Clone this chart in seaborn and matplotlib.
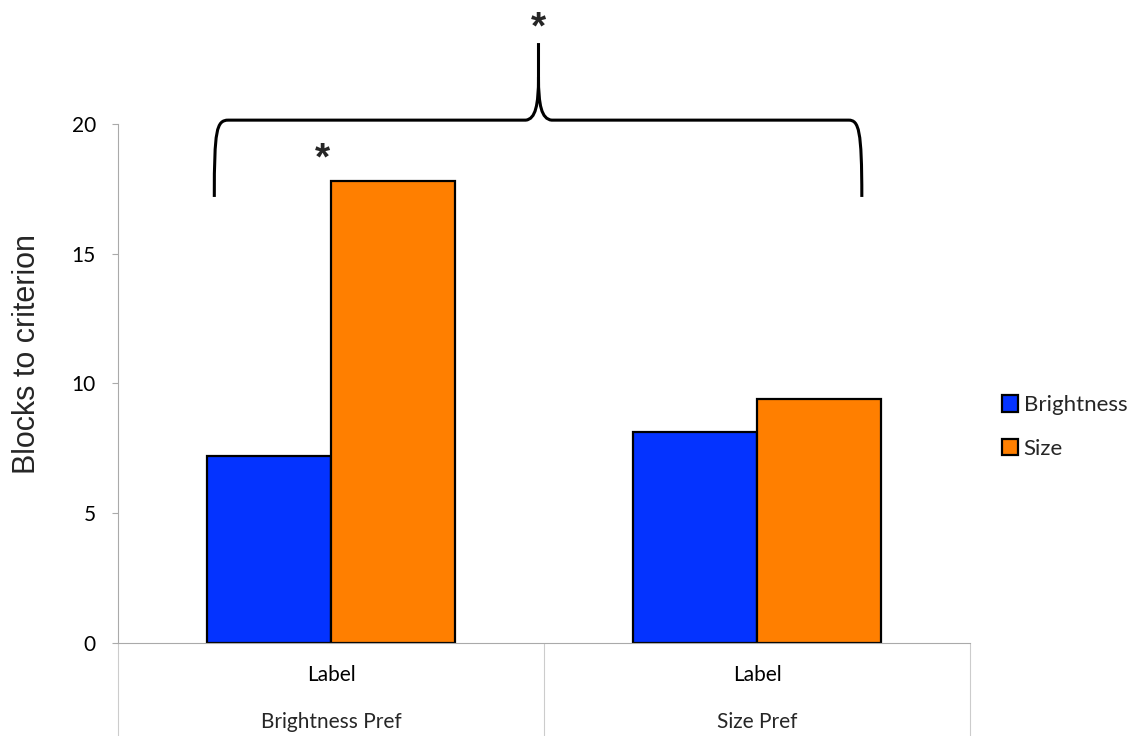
import matplotlib
matplotlib.use('Agg')
import matplotlib.pyplot as plt
from matplotlib.path import Path
from matplotlib.patches import PathPatch, Patch
import seaborn as sns
import pandas as pd

# data
groups = ['Brightness Pref', 'Size Pref']
tick_labels = ['Label', 'Label']
dims = ['Brightness', 'Size']
brightness_vals = [7.2, 8.13]
size_vals = [17.8, 9.42]
colors = ['#0433FF', '#FF7F00']

df = pd.DataFrame({
    'Group': groups * 2,
    'Dimension': [dims[0]] * 2 + [dims[1]] * 2,
    'Blocks': brightness_vals + size_vals,
})

sns.set_style('white')
plt.rcParams['font.family'] = ['Lato', 'DejaVu Sans']

fig = plt.figure(figsize=(11.36, 7.36), dpi=100)
ax = fig.add_axes([0.1039, 0.1264, 0.75, 0.8736])

sns.barplot(data=df, x='Group', y='Blocks', hue='Dimension', order=groups,
            hue_order=dims, palette=colors, width=0.58, saturation=1,
            edgecolor='black', linewidth=1.6, legend=False, ax=ax)

ax.set_xlim(-0.5, 1.5)
ax.set_ylim(0, 24.78)
ax.set_yticks([0, 5, 10, 15, 20])
ax.set_xticks([0, 1])
ax.set_xticklabels(tick_labels)
ax.tick_params(axis='x', length=0, pad=16, labelsize=15, labelcolor='black')
ax.tick_params(axis='y', left=True, length=4, width=0.8, color='#aaaaaa',
               pad=12, labelsize=15, labelcolor='black')
ax.set_xlabel('')
ax.set_ylabel('Blocks to criterion', fontsize=22, family='Liberation Sans')
ax.yaxis.set_label_coords(-0.0895, 0.449)

for s in ['top', 'right']:
    ax.spines[s].set_visible(False)
ax.spines['left'].set_bounds(0, 20)
ax.spines['left'].set_color('#aaaaaa')
ax.spines['left'].set_linewidth(0.8)
ax.spines['bottom'].set_color('#aaaaaa')
ax.spines['bottom'].set_linewidth(0.8)

# category table lines under axis
tr = ax.get_xaxis_transform()
for xv in [-0.5, 0.5, 1.5]:
    ax.plot([xv, xv], [0, -0.146], transform=tr, color='#cccccc', lw=0.8,
            clip_on=False)
for i, g in enumerate(groups):
    ax.text(i, -0.123, g, transform=tr, ha='center', va='center', fontsize=15)

# brace annotation
verts = [(-0.274, 17.19), (-0.274, 19.77), (-0.269, 20.15), (-0.241, 20.15),
         (0.457, 20.15),
         (0.480, 20.19), (0.487, 20.73), (0.487, 21.81),
         (0.487, 23.12),
         (0.487, 21.81),
         (0.487, 20.73), (0.494, 20.19), (0.518, 20.15),
         (1.215, 20.15),
         (1.239, 20.15), (1.246, 19.77), (1.246, 17.19)]
codes = [Path.MOVETO, Path.CURVE4, Path.CURVE4, Path.CURVE4,
         Path.LINETO,
         Path.CURVE4, Path.CURVE4, Path.CURVE4,
         Path.LINETO,
         Path.MOVETO,
         Path.CURVE4, Path.CURVE4, Path.CURVE4,
         Path.LINETO,
         Path.CURVE4, Path.CURVE4, Path.CURVE4]
ax.add_patch(PathPatch(Path(verts, codes), facecolor='none', edgecolor='black',
                       lw=2.2, clip_on=False, capstyle='butt'))

ax.text(0.487, 23.68, '*', ha='center', va='center', fontsize=28,
        family='Liberation Sans', fontweight='bold')
ax.text(-0.02, 18.62, '*', ha='center', va='center', fontsize=28,
        family='Liberation Sans', fontweight='bold')

handles = [Patch(facecolor=c, edgecolor='black', linewidth=1.6) for c in colors]
fig.legend(handles, dims, loc='center left', bbox_to_anchor=(0.864, 0.42),
           frameon=False, fontsize=16, handlelength=0.75, handleheight=0.75,
           handletextpad=0.25, labelspacing=1.05)

fig.savefig('out.png', dpi=100)
